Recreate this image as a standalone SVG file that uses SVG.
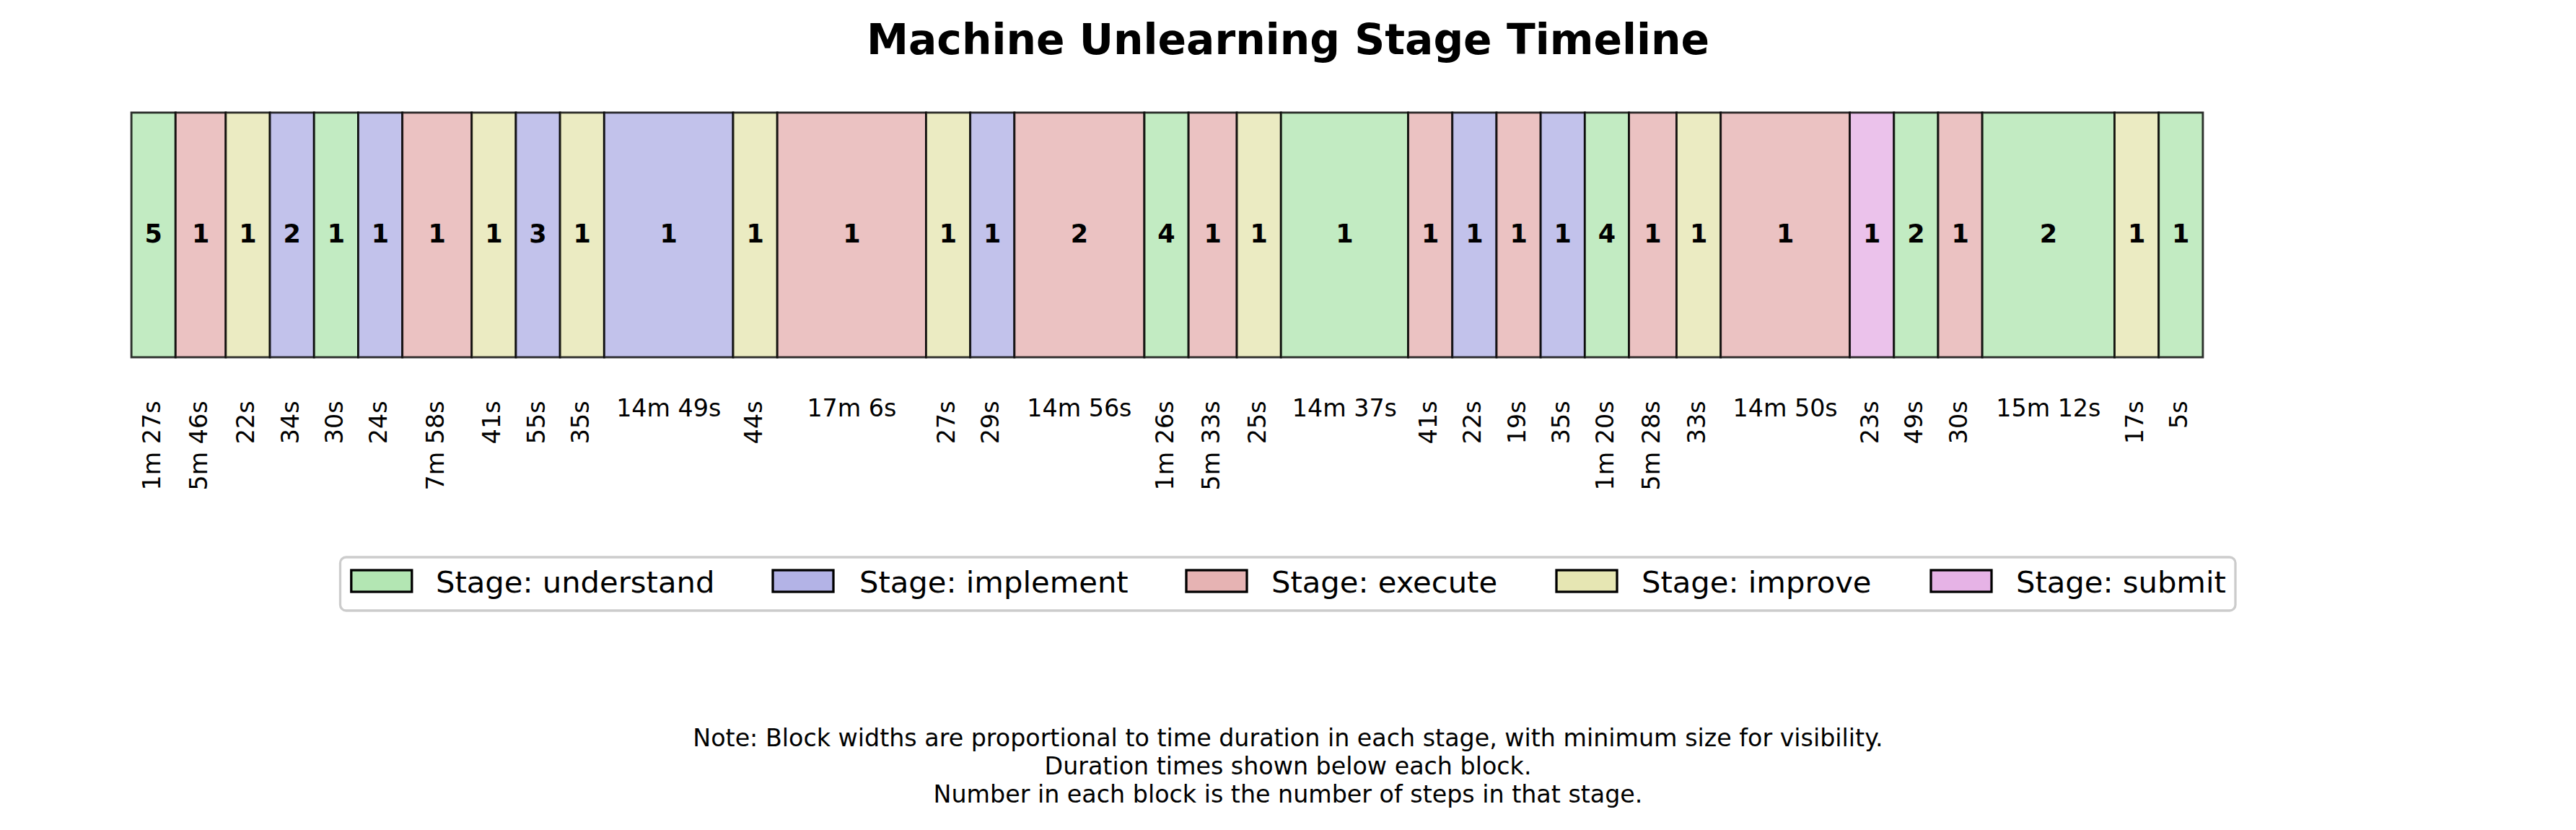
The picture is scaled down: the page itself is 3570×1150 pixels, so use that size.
<svg xmlns="http://www.w3.org/2000/svg" width="3570" height="1150" viewBox="0 0 3570 1150">
<style>
text{font-family:"DejaVu Sans","Liberation Sans",sans-serif;fill:#000}
.title{font-size:58.3px;font-weight:bold;text-anchor:middle}
.blk{stroke:#000;stroke-opacity:0.8;stroke-width:2.9;fill-opacity:0.8}
.und{fill:#b3e6b3}.impl{fill:#b3b3e6}.exe{fill:#e6b3b3}.imp{fill:#e6e6b3}.sub{fill:#e6b3e6}
.num{font-size:35px;font-weight:bold;text-anchor:middle}
.dh{font-size:33.3px;text-anchor:middle}
.dv{font-size:33.3px;text-anchor:end}
.lp{stroke:#000;stroke-width:3.3}
.lt{font-size:41.7px}
.note{font-size:33.3px;text-anchor:middle}
</style>
<rect width="3570" height="1150" fill="#fff"/>
<text class="title" x="1785" y="74.5">Machine Unlearning Stage Timeline</text>

<g id="blocks">
<g id="b1"><rect class="blk und" x="182.1" y="156" width="61.2" height="339"/><text class="num" x="212.7" y="336">5</text><text class="dv" transform="translate(221.7,555.5) rotate(-90)">1m 27s</text></g>
<g id="b2"><rect class="blk exe" x="243.3" y="156" width="69.55" height="339"/><text class="num" x="278.08" y="336">1</text><text class="dv" transform="translate(287.08,555.5) rotate(-90)">5m 46s</text></g>
<g id="b3"><rect class="blk imp" x="312.85" y="156" width="61.2" height="339"/><text class="num" x="343.45" y="336">1</text><text class="dv" transform="translate(352.45,555.5) rotate(-90)">22s</text></g>
<g id="b4"><rect class="blk impl" x="374.05" y="156" width="61.2" height="339"/><text class="num" x="404.65" y="336">2</text><text class="dv" transform="translate(413.65,555.5) rotate(-90)">34s</text></g>
<g id="b5"><rect class="blk und" x="435.25" y="156" width="61.2" height="339"/><text class="num" x="465.85" y="336">1</text><text class="dv" transform="translate(474.85,555.5) rotate(-90)">30s</text></g>
<g id="b6"><rect class="blk impl" x="496.45" y="156" width="61.2" height="339"/><text class="num" x="527.05" y="336">1</text><text class="dv" transform="translate(536.05,555.5) rotate(-90)">24s</text></g>
<g id="b7"><rect class="blk exe" x="557.65" y="156" width="96.08" height="339"/><text class="num" x="605.69" y="336">1</text><text class="dv" transform="translate(614.69,555.5) rotate(-90)">7m 58s</text></g>
<g id="b8"><rect class="blk imp" x="653.73" y="156" width="61.2" height="339"/><text class="num" x="684.33" y="336">1</text><text class="dv" transform="translate(693.33,555.5) rotate(-90)">41s</text></g>
<g id="b9"><rect class="blk impl" x="714.93" y="156" width="61.2" height="339"/><text class="num" x="745.53" y="336">3</text><text class="dv" transform="translate(754.53,555.5) rotate(-90)">55s</text></g>
<g id="b10"><rect class="blk imp" x="776.13" y="156" width="61.2" height="339"/><text class="num" x="806.73" y="336">1</text><text class="dv" transform="translate(815.73,555.5) rotate(-90)">35s</text></g>
<g id="b11"><rect class="blk impl" x="837.33" y="156" width="178.69" height="339"/><text class="num" x="926.68" y="336">1</text><text class="dh" x="926.68" y="577">14m 49s</text></g>
<g id="b12"><rect class="blk imp" x="1016.02" y="156" width="61.2" height="339"/><text class="num" x="1046.62" y="336">1</text><text class="dv" transform="translate(1055.62,555.5) rotate(-90)">44s</text></g>
<g id="b13"><rect class="blk exe" x="1077.22" y="156" width="206.23" height="339"/><text class="num" x="1180.34" y="336">1</text><text class="dh" x="1180.34" y="577">17m 6s</text></g>
<g id="b14"><rect class="blk imp" x="1283.45" y="156" width="61.2" height="339"/><text class="num" x="1314.05" y="336">1</text><text class="dv" transform="translate(1323.05,555.5) rotate(-90)">27s</text></g>
<g id="b15"><rect class="blk impl" x="1344.65" y="156" width="61.2" height="339"/><text class="num" x="1375.25" y="336">1</text><text class="dv" transform="translate(1384.25,555.5) rotate(-90)">29s</text></g>
<g id="b16"><rect class="blk exe" x="1405.85" y="156" width="180.1" height="339"/><text class="num" x="1495.9" y="336">2</text><text class="dh" x="1495.9" y="577">14m 56s</text></g>
<g id="b17"><rect class="blk und" x="1585.95" y="156" width="61.2" height="339"/><text class="num" x="1616.55" y="336">4</text><text class="dv" transform="translate(1625.55,555.5) rotate(-90)">1m 26s</text></g>
<g id="b18"><rect class="blk exe" x="1647.15" y="156" width="66.93" height="339"/><text class="num" x="1680.62" y="336">1</text><text class="dv" transform="translate(1689.62,555.5) rotate(-90)">5m 33s</text></g>
<g id="b19"><rect class="blk imp" x="1714.08" y="156" width="61.2" height="339"/><text class="num" x="1744.68" y="336">1</text><text class="dv" transform="translate(1753.68,555.5) rotate(-90)">25s</text></g>
<g id="b20"><rect class="blk und" x="1775.28" y="156" width="176.28" height="339"/><text class="num" x="1863.42" y="336">1</text><text class="dh" x="1863.42" y="577">14m 37s</text></g>
<g id="b21"><rect class="blk exe" x="1951.56" y="156" width="61.2" height="339"/><text class="num" x="1982.16" y="336">1</text><text class="dv" transform="translate(1991.16,555.5) rotate(-90)">41s</text></g>
<g id="b22"><rect class="blk impl" x="2012.76" y="156" width="61.2" height="339"/><text class="num" x="2043.36" y="336">1</text><text class="dv" transform="translate(2052.36,555.5) rotate(-90)">22s</text></g>
<g id="b23"><rect class="blk exe" x="2073.96" y="156" width="61.2" height="339"/><text class="num" x="2104.56" y="336">1</text><text class="dv" transform="translate(2113.56,555.5) rotate(-90)">19s</text></g>
<g id="b24"><rect class="blk impl" x="2135.16" y="156" width="61.2" height="339"/><text class="num" x="2165.76" y="336">1</text><text class="dv" transform="translate(2174.76,555.5) rotate(-90)">35s</text></g>
<g id="b25"><rect class="blk und" x="2196.36" y="156" width="61.2" height="339"/><text class="num" x="2226.96" y="336">4</text><text class="dv" transform="translate(2235.96,555.5) rotate(-90)">1m 20s</text></g>
<g id="b26"><rect class="blk exe" x="2257.56" y="156" width="65.93" height="339"/><text class="num" x="2290.53" y="336">1</text><text class="dv" transform="translate(2299.53,555.5) rotate(-90)">5m 28s</text></g>
<g id="b27"><rect class="blk imp" x="2323.49" y="156" width="61.2" height="339"/><text class="num" x="2354.09" y="336">1</text><text class="dv" transform="translate(2363.09,555.5) rotate(-90)">33s</text></g>
<g id="b28"><rect class="blk exe" x="2384.69" y="156" width="178.89" height="339"/><text class="num" x="2474.14" y="336">1</text><text class="dh" x="2474.14" y="577">14m 50s</text></g>
<g id="b29"><rect class="blk sub" x="2563.58" y="156" width="61.2" height="339"/><text class="num" x="2594.18" y="336">1</text><text class="dv" transform="translate(2603.18,555.5) rotate(-90)">23s</text></g>
<g id="b30"><rect class="blk und" x="2624.78" y="156" width="61.2" height="339"/><text class="num" x="2655.38" y="336">2</text><text class="dv" transform="translate(2664.38,555.5) rotate(-90)">49s</text></g>
<g id="b31"><rect class="blk exe" x="2685.98" y="156" width="61.2" height="339"/><text class="num" x="2716.58" y="336">1</text><text class="dv" transform="translate(2725.58,555.5) rotate(-90)">30s</text></g>
<g id="b32"><rect class="blk und" x="2747.18" y="156" width="183.31" height="339"/><text class="num" x="2838.84" y="336">2</text><text class="dh" x="2838.84" y="577">15m 12s</text></g>
<g id="b33"><rect class="blk imp" x="2930.49" y="156" width="61.2" height="339"/><text class="num" x="2961.09" y="336">1</text><text class="dv" transform="translate(2970.09,555.5) rotate(-90)">17s</text></g>
<g id="b34"><rect class="blk und" x="2991.69" y="156" width="61.2" height="339"/><text class="num" x="3022.29" y="336">1</text><text class="dv" transform="translate(3031.29,555.5) rotate(-90)">5s</text></g>
</g>

<g id="legend">
<rect x="471.5" y="772" width="2626.5" height="74" rx="8" fill="#fff" fill-opacity="0.8" stroke="#cccccc" stroke-width="3.3"/>
<g id="leg-understand"><rect class="lp und" x="486.8" y="790" width="84" height="30"/><text class="lt" x="604" y="821">Stage: understand</text></g>
<g id="leg-implement"><rect class="lp impl" x="1071" y="790" width="84" height="30"/><text class="lt" x="1191" y="821">Stage: implement</text></g>
<g id="leg-execute"><rect class="lp exe" x="1644" y="790" width="84" height="30"/><text class="lt" x="1762" y="821">Stage: execute</text></g>
<g id="leg-improve"><rect class="lp imp" x="2157" y="790" width="84" height="30"/><text class="lt" x="2275" y="821">Stage: improve</text></g>
<g id="leg-submit"><rect class="lp sub" x="2676" y="790" width="84" height="30"/><text class="lt" x="2794" y="821">Stage: submit</text></g>
</g>

<g id="note">
<text class="note" x="1785" y="1034">Note: Block widths are proportional to time duration in each stage, with minimum size for visibility.</text>
<text class="note" x="1785" y="1073">Duration times shown below each block.</text>
<text class="note" x="1785" y="1112">Number in each block is the number of steps in that stage.</text>
</g>
</svg>
